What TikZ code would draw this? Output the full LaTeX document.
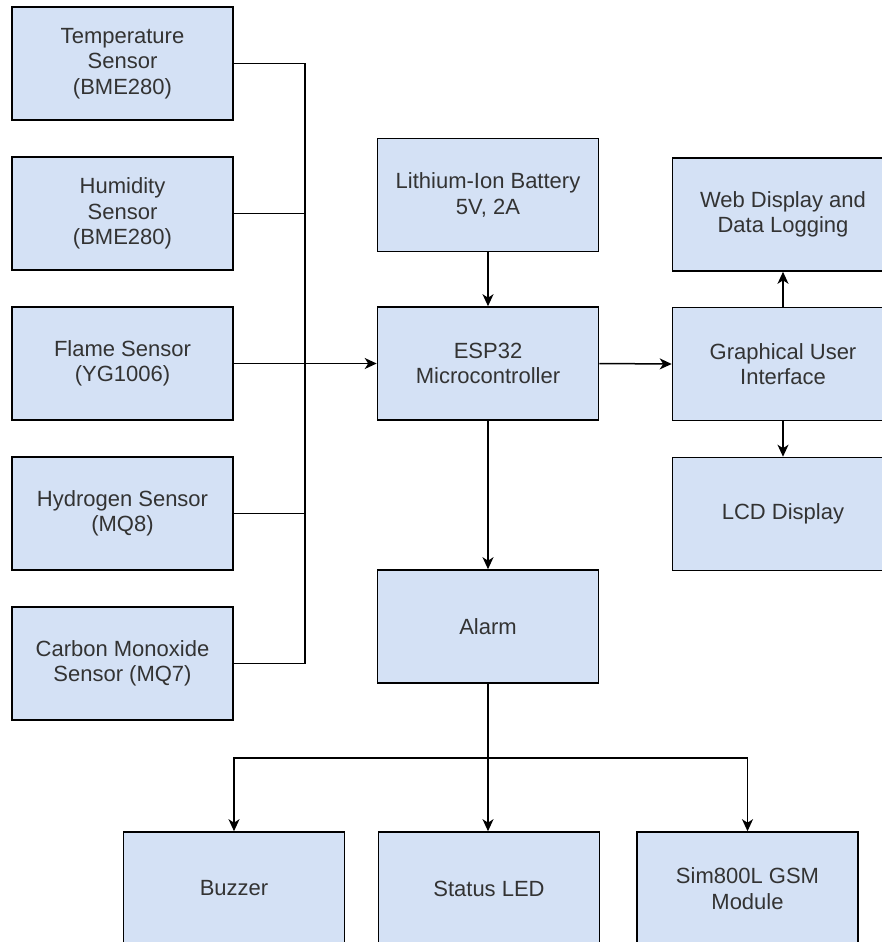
\documentclass[tikz,border=0pt]{standalone}
\usepackage{fontspec}
\setmainfont{Liberation Sans}
\usetikzlibrary{arrows.meta}
\definecolor{boxfill}{HTML}{D4E1F5}
\definecolor{txt}{HTML}{333333}
\begin{document}
\begin{tikzpicture}[x=1pt,y=-1pt,
  blk/.style={draw=black, line width=1.6pt, fill=boxfill, rectangle,
    minimum width=221pt, minimum height=113pt, inner sep=0pt, align=center,
    text=txt, font=\fontsize{22}{25.5}\selectfont},
  wire/.style={draw=black, line width=1.5pt},
  arr/.style={wire, -{Stealth[length=12pt,width=11pt,inset=3.5pt]}}]
\clip (0,0) rectangle (882,942);
\fill[white] (0,0) rectangle (882,942);
% left column sensors
\node[blk] (temp) at (122.5,63.5) {Temperature\\Sensor\\(BME280)};
\node[blk] (hum) at (122.5,213.5) {Humidity\\Sensor\\(BME280)};
\node[blk] (flame) at (122.5,363.5) {Flame Sensor\\(YG1006)};
\node[blk] (hyd) at (122.5,513.5) {Hydrogen Sensor\\(MQ8)};
\node[blk] (co) at (122.5,663.5) {Carbon Monoxide\\Sensor (MQ7)};
% middle column
\node[blk] (bat) at (488,195) {Lithium-Ion Battery\\5V, 2A};
\node[blk] (esp) at (488,363.5) {ESP32\\Microcontroller};
\node[blk] (alarm) at (488,626.5) {Alarm};
% right column
\node[blk] (web) at (783,214.5) {Web Display and\\Data Logging};
\node[blk] (gui) at (783,364) {Graphical User\\Interface};
\node[blk] (lcd) at (783,514) {LCD Display};
% bottom row
\node[blk] (buz) at (234,888.5) {Buzzer};
\node[blk] (led) at (489,888.5) {Status LED};
\node[blk] (sim) at (747.5,888.5) {Sim800L GSM\\Module};
% sensor bus
\coordinate (bus) at (305,0);
\draw[wire] (temp.east) -- (temp.east -| bus) -- (co.east -| bus) -- (co.east);
\draw[wire] (hum.east) -- (hum.east -| bus);
\draw[wire] (hyd.east) -- (hyd.east -| bus);
\draw[arr] (flame.east) -- (esp.west);
% power and outputs
\draw[arr] (bat.south) -- (esp.north);
\draw[arr] (esp.east) -- (gui.west);
\draw[arr] (gui.north) -- (web.south);
\draw[arr] (gui.south) -- (lcd.north);
\draw[arr] (esp.south) -- (alarm.north);
% alarm split
\coordinate (split) at (488,758);
\draw[wire] (alarm.south) -- (split);
\draw[arr] (split) -| (buz.north);
\draw[arr] (split) -- (split |- led.north);
\draw[arr] (split) -| (sim.north);
\end{tikzpicture}
\end{document}
